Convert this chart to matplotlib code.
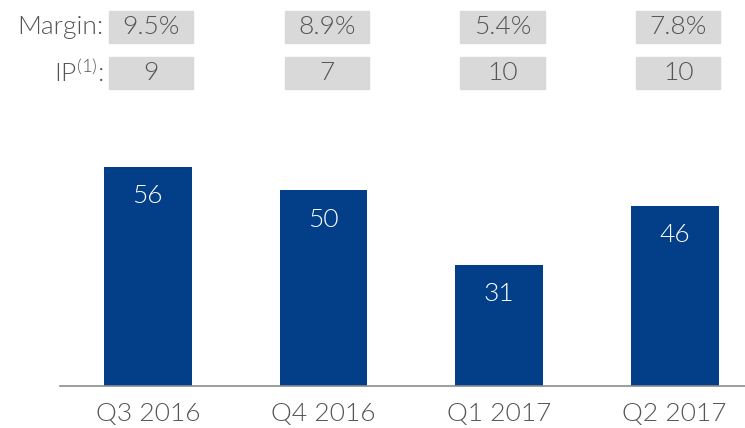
import matplotlib.pyplot as plt
from matplotlib.patches import Rectangle
from matplotlib import transforms

quarters = ['Q3 2016', 'Q4 2016', 'Q1 2017', 'Q2 2017']
values = [56, 50, 31, 46]
margins = ['9.5%', '8.9%', '5.4%', '7.8%']
ip_counts = ['9', '7', '10', '10']

plt.rcParams['font.family'] = ['Lato', 'DejaVu Sans']
plt.rcParams['font.weight'] = 300
plt.rcParams['mathtext.default'] = 'regular'

blue = '#023F88'
grey_box = '#D9D9D9'
txt = '#555555'
W, H = 745, 428

fig = plt.figure(figsize=(W / 100, H / 100), dpi=100)
ax = fig.add_axes([60 / W, 42.5 / H, 685 / W, 285.5 / H])

x = list(range(len(quarters)))
bars = ax.bar(x, values, width=0.5, color=blue)
for b, v in zip(bars, values):
    ax.annotate(str(v), (b.get_x() + b.get_width() / 2, v), xytext=(0, -21),
                textcoords='offset points', ha='center', va='center',
                color='white', fontsize=19, fontweight=300)

ax.set_xlim(-0.5, 3.4)
ax.set_ylim(0, 73.2)
ax.set_xticks(x)
ax.set_xticklabels(quarters, fontsize=19, color=txt, fontweight=300)
ax.tick_params(axis='x', length=0, pad=12)
ax.set_yticks([])
for s in ['top', 'left', 'right']:
    ax.spines[s].set_visible(False)
ax.spines['bottom'].set_color('#8C8C8C')
ax.spines['bottom'].set_linewidth(1.2)

# margin / IP rows
tr = transforms.blended_transform_factory(ax.transData, fig.transFigure)
rows = [(margins, 27, 'Margin:'), (ip_counts, 73, 'IP$^{(1)}$:')]
for labels, yc, name in rows:
    yf = 1 - yc / H
    hf = 32 / H
    for i, lab in zip(x, labels):
        ax.add_patch(Rectangle((i - 0.24 + 0.02, yf - hf / 2), 0.48, hf,
                               transform=tr, color=grey_box, clip_on=False))
        ax.text(i + 0.02, yf, lab, transform=tr, ha='center', va='center',
                fontsize=19, color=txt, fontweight=300)
    fig.text(104 / W, yf, name, ha='right', va='center', fontsize=19,
             color=txt, fontweight=300)

fig.savefig('out.png', dpi=100)
